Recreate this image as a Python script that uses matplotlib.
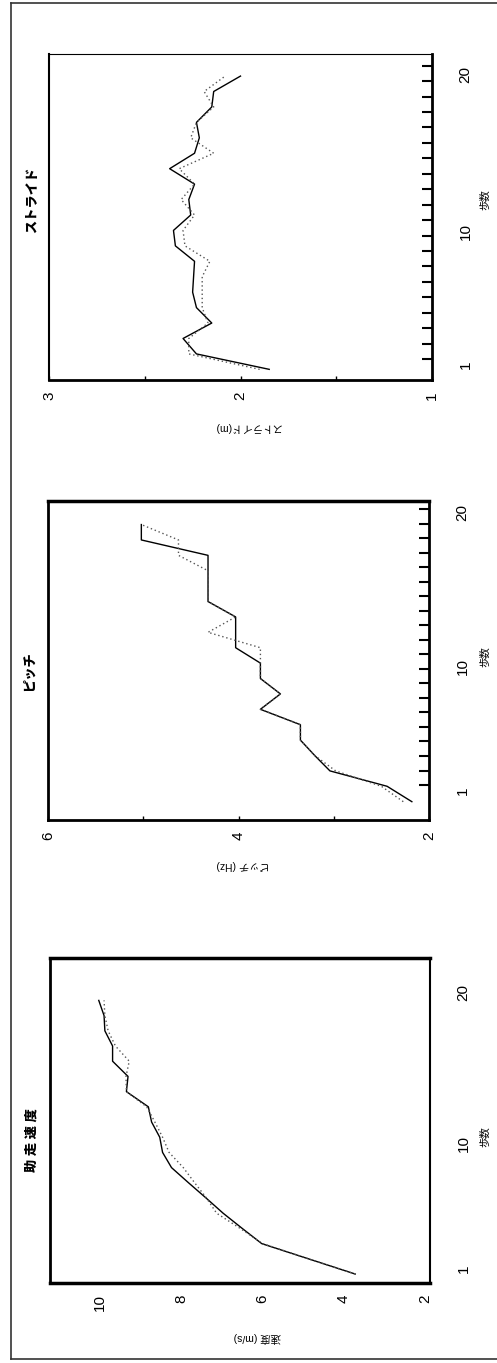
import numpy as np
import matplotlib
matplotlib.use("Agg")
import matplotlib.pyplot as plt
from matplotlib.ticker import FixedLocator, NullFormatter

plt.rcParams['font.family'] = ['Liberation Sans', 'Noto Sans CJK JP']

# data read from the (rotated) figure
stride_steps = np.arange(1, 21)
stride_solid = [1.85, 2.23, 2.30, 2.15, 2.23, 2.25, 2.245, 2.24, 2.34, 2.35,
                2.26, 2.27, 2.24, 2.37, 2.24, 2.215, 2.23, 2.15, 2.14, 2.00]
stride_dotted = [1.90, 2.27, 2.27, 2.17, 2.20, 2.20, 2.20, 2.16, 2.29, 2.30,
                 2.24, 2.31, 2.24, 2.32, 2.14, 2.26, 2.23, 2.14, 2.19, 2.08]

pitch_steps = np.arange(1, 20)
pitch_solid = [2.18, 2.44, 3.04, 3.20, 3.35, 3.35, 3.77, 3.56, 3.77, 3.77,
               4.03, 4.03, 4.03, 4.32, 4.32, 4.32, 4.32, 5.02, 5.02]
pitch_dotted = [2.27, 2.50, 2.98, 3.20, 3.35, 3.35, 3.77, 3.56, 3.77, 3.77,
                3.77, 4.32, 4.03, 4.32, 4.32, 4.32, 4.63, 4.63, 5.02]

speed_steps = np.arange(1, 20)
speed_solid = [3.72, 4.87, 6.02, 6.50, 6.97, 7.39, 7.82, 8.24, 8.46, 8.53,
               8.73, 8.81, 9.35, 9.31, 9.69, 9.69, 9.88, 9.90, 10.03]
speed_dotted = [3.72, 4.87, 6.00, 6.55, 7.13, 7.38, 7.67, 7.95, 8.30, 8.46,
                8.65, 8.85, 9.35, 9.36, 9.28, 9.62, 9.80, 9.88, 9.90]

step_labels = ['1', '10', '20']

W, H = 497, 1363
fig = plt.figure(figsize=(W / 100, H / 100), dpi=100)


def px_axes(l, t, r, b):
    return fig.add_axes([l / W, 1 - b / H, (r - l) / W, (b - t) / H])


def ftext(x, y, s, **kw):
    fig.text(x / W, 1 - y / H, s, ha='center', va='center', **kw)


def panel(box, steps, solid, dotted, vlim, vticks, vlabels, slim,
          sticks, slabel_pos, spine_w):
    ax = px_axes(*box)
    ax.plot(solid, steps, color='black', lw=1.0)
    ax.plot(dotted, steps, color='#555555', lw=1.0, linestyle=(0, (1, 2)))
    ax.set_xlim(*vlim)
    ax.set_ylim(*slim)
    # value axis (drawn along the bottom)
    ax.set_xticks(vticks)
    ax.set_xticklabels(vlabels)
    ax.tick_params(axis='x', direction='in', length=3, width=1,
                   labelrotation=90, labelsize=11, pad=8)
    # step axis (drawn on the right)
    ax.yaxis.tick_right()
    ax.set_yticks(slabel_pos)
    ax.set_yticklabels(step_labels)
    ax.yaxis.set_minor_locator(FixedLocator(sticks))
    ax.yaxis.set_minor_formatter(NullFormatter())
    ax.tick_params(axis='y', which='major', length=0, labelrotation=90,
                   labelsize=11, pad=19)
    ax.tick_params(axis='y', which='minor', direction='in', length=7,
                   width=1.5, right=True, left=False)
    for side, w in zip(['top', 'bottom', 'left', 'right'], spine_w):
        ax.spines[side].set_linewidth(w)
    return ax


# stride
panel((49, 54, 432, 380), stride_steps, stride_solid, stride_dotted,
      (3, 1), [3, 2.5, 2, 1.5, 1], ['3', '', '2', '', '1'], (0.31, 21.43),
      np.arange(1, 21) + 0.67, [1.2, 10.1, 20.3], [0.8, 2, 1.5, 2])
ftext(33, 200, 'ストライド', rotation=90, fontsize=9.5, fontweight='heavy')
ftext(247, 427, 'ストライド(m)', rotation=180, fontsize=7.5)
ftext(485, 200, '歩数', rotation=90, fontsize=7.5)

# pitch
panel((48, 501, 429, 820), pitch_steps, pitch_solid, pitch_dotted,
      (6, 2), [6, 5, 4, 3, 2], ['6', '', '4', '', '2'], (-0.19, 20.53),
      2.08 + np.arange(20) * 0.943, [1.6, 10.0, 20.0], [2.5, 2, 2, 2])
ftext(30, 671, 'ピッチ', rotation=90, fontsize=9.5, fontweight='heavy')
ftext(243, 865, 'ピッチ (Hz)', rotation=180, fontsize=7.5)
ftext(485, 657, '歩数', rotation=90, fontsize=7.5)

# speed
ax = panel((50, 958, 430, 1283), speed_steps, speed_solid, speed_dotted,
           (11.23, 1.88), [10, 8, 6, 4, 2], ['10', '8', '6', '4', '2'],
           (0.41, 21.79), [], [1.26, 9.77, 19.75], [2.5, 2.5, 2, 1.5])
ax.tick_params(axis='x', length=0)
ftext(32, 1140, '助 走 速 度', rotation=90, fontsize=9.5, fontweight='heavy')
ftext(257, 1337, '速度 (m/s)', rotation=180, fontsize=7.5)
ftext(485, 1137, '歩数', rotation=90, fontsize=7.5)

# outer frame
for xs, ys in [((11, 11), (3, 1359)), ((11, W), (3, 3)), ((11, W), (1359, 1359))]:
    fig.add_artist(plt.Line2D([x / W for x in xs], [1 - y / H for y in ys],
                              color='#333333', lw=1.2))

fig.savefig('out.png', dpi=100)
